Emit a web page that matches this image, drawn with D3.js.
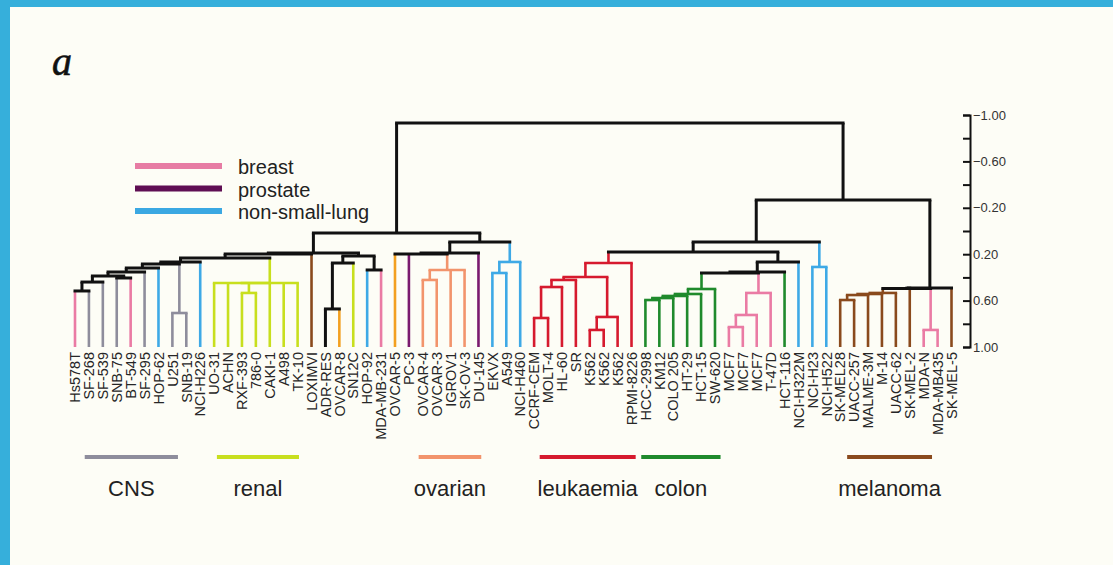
<!DOCTYPE html>
<html>
<head>
<meta charset="utf-8">
<script src="https://cdn.jsdelivr.net/npm/d3@7"></script>
<style>
  html, body { margin: 0; padding: 0; background: #36afdb; }
  svg { display: block; }
</style>
</head>
<body>
<svg id="chart" width="1113" height="565"></svg>
<script>
// Cell lines, left to right, and the tissue each one comes from
const leafNames = [
  "Hs578T","SF-268","SF-539","SNB-75","BT-549","SF-295","HOP-62","U251","SNB-19","NCI-H226",
  "UO-31","ACHN","RXF-393","786-0","CAKI-1","A498","TK-10","LOXIMVI","ADR-RES","OVCAR-8",
  "SN12C","HOP-92","MDA-MB-231","OVCAR-5","PC-3","OVCAR-4","OVCAR-3","IGROV1","SK-OV-3","DU-145",
  "EKVX","A549","NCI-H460","CCRF-CEM","MOLT-4","HL-60","SR","K562","K562","K562",
  "RPMI-8226","HCC-2998","KM12","COLO 205","HT-29","HCT-15","SW-620","MCF7","MCF7","MCF7",
  "T-47D","HCT-116","NCI-H322M","NCI-H23","NCI-H522","SK-MEL28","UACC-257","MALME-3M","M-14","UACC-62",
  "SK-MEL-2","MDA-N","MDA-MB435","SK-MEL-5"
];
const leafTissue = [
  "breast","cns","cns","cns","breast","cns","nsclc","cns","cns","nsclc",
  "renal","renal","renal","renal","renal","renal","renal","melanoma","other","ovarianAlt",
  "renal","nsclc","breast","ovarianAlt","prostate","ovarian","ovarian","ovarian","ovarian","prostate",
  "nsclc","nsclc","nsclc","leukaemia","leukaemia","leukaemia","leukaemia","leukaemia","leukaemia","leukaemia",
  "leukaemia","colon","colon","colon","colon","colon","colon","breast","breast","breast",
  "breast","colon","nsclc","nsclc","nsclc","melanoma","melanoma","melanoma","melanoma","melanoma",
  "melanoma","breast","breast","melanoma"
];
const tissueColors = {
  breast: "#ea7ba4", cns: "#8e8d9c", renal: "#c8df1e", nsclc: "#3ea9e6",
  melanoma: "#8a4a1d", ovarian: "#f2946c", ovarianAlt: "#f3a020",
  prostate: "#7a1a6f", leukaemia: "#d61a2e", colon: "#1f8a2c", other: "#111111"
};

// Agglomerative merges: [name, correlation height, children]
// (numbers are leaf indices, strings are earlier merges)
const merges = [
  ["c1", 0.517, [0, 1]],
  ["c2", 0.44, ["c1", 2]],
  ["c3", 0.405, [3, 4]],
  ["c4", 0.388, ["c2", "c3"]],
  ["c5", 0.353, ["c4", 5]],
  ["c6", 0.319, ["c5", 6]],
  ["c7", 0.707, [7, 8]],
  ["c8", 0.284, ["c6", "c7"]],
  ["c9", 0.267, ["c8", 9]],
  ["r1", 0.534, [12, 13]],
  ["r2", 0.448, [10, 11, "r1", 14]],
  ["r3", 0.448, ["r2", 15, 16]],
  ["c10", 0.233, ["c9", "r3"]],
  ["c11", 0.198, ["c10", 17]],
  ["b1", 0.672, [18, 19]],
  ["b2", 0.276, ["b1", 20]],
  ["b3", 0.336, [21, 22]],
  ["b4", 0.216, ["b2", "b3"]],
  ["lA", 0.19, ["c11", "b4"]],
  ["o1", 0.422, [25, 26]],
  ["o2", 0.336, ["o1", 27, 28]],
  ["o3", 0.198, [23, 24, "o2"]],
  ["o4", 0.19, ["o3", 29]],
  ["n1", 0.362, [30, 31]],
  ["n2", 0.267, ["n1", 32]],
  ["lB", 0.095, ["o4", "n2"]],
  ["L", 0.017, ["lA", "lB"]],
  ["k1", 0.75, [33, 34]],
  ["k2", 0.483, ["k1", 35]],
  ["k3", 0.422, ["k2", 36]],
  ["k4", 0.853, [37, 38]],
  ["k5", 0.741, ["k4", 39]],
  ["k6", 0.397, ["k3", "k5"]],
  ["k7", 0.276, ["k6", 40]],
  ["g1", 0.595, [41, 42]],
  ["g2", 0.578, ["g1", 43]],
  ["g3", 0.56, ["g2", 44]],
  ["g4", 0.543, ["g3", 45]],
  ["g5", 0.5, ["g4", 46]],
  ["p1", 0.828, [47, 48]],
  ["p2", 0.724, ["p1", 49]],
  ["p3", 0.534, ["p2", 50]],
  ["g6", 0.362, ["g5", "p3"]],
  ["g7", 0.353, ["g6", 51]],
  ["g8", 0.267, ["g7", 52]],
  ["q1", 0.181, ["k7", "g8"]],
  ["h1", 0.31, [53, 54]],
  ["q2", 0.095, ["q1", "h1"]],
  ["m1", 0.595, [55, 56]],
  ["m2", 0.552, ["m1", 57]],
  ["m3", 0.543, ["m2", 58]],
  ["m4", 0.534, ["m3", 59]],
  ["m5", 0.853, [61, 62]],
  ["m6", 0.495, ["m4", "m5"]],
  ["m7", 0.493, ["m6", 60]],
  ["m8", 0.491, ["m7", 63]],
  ["R", -0.267, ["q2", "m8"]],
  ["root", -0.931, ["L", "R"]]
];

// Axis ticks
const majorTicks = [-1.0, -0.6, -0.2, 0.2, 0.6, 1.0];
const allTicks = [-1.0, -0.8, -0.6, -0.4, -0.2, 0.0, 0.2, 0.4, 0.6, 0.8, 1.0];

// Legends
const legendLabels = ["breast", "prostate", "non-small-lung"];
const legendColors = ["#e77ca4", "#5f0e53", "#3ba8e2"];
const groupLabels = ["CNS", "renal", "ovarian", "leukaemia", "colon", "melanoma"];
const groupSpans = [[0.7, 7.4], [10.2, 16.1], [24.7, 29.2], [33.4, 40.3], [40.7, 46.4], [55.5, 61.6]];
const groupColors = ["#8e8d9c", "#c8df1e", "#f2946c", "#d61a2e", "#1f8a2c", "#8a4a1d"];

const SANS = '"Liberation Sans", Arial, Helvetica, sans-serif';
const svg = d3.select("#chart");

// Page frame
svg.append("rect").attr("x", 0).attr("y", 0).attr("width", 1113).attr("height", 565).attr("fill", "#36afdb");
svg.append("rect").attr("x", 10).attr("y", 7).attr("width", 1103).attr("height", 558).attr("fill", "#fdfdf6");

// Scales
const x = d3.scaleLinear().domain([0, leafNames.length - 1]).range([75, 951.5]);
const y = d3.scaleLinear().domain([-1, 1]).range([115, 347]);

// Build node table from merges
const nodes = {};
leafNames.forEach((n, i) => {
  nodes[i] = { id: i, h: 1.0, x: x(i), tissues: new Set([leafTissue[i]]) };
});
merges.forEach(([name, h, kids]) => {
  const ch = kids.map(k => nodes[k]);
  const tissues = new Set();
  ch.forEach(c => c.tissues.forEach(t => tissues.add(t)));
  nodes[name] = {
    id: name, h, children: ch, tissues,
    x: (ch[0].x + ch[ch.length - 1].x) / 2
  };
});
const BLACK = "#111111";
const colorOf = n => n.tissues.size === 1 ? tissueColors[[...n.tissues][0]] : BLACK;

const tree = svg.append("g").attr("fill", "none");
const verticals = [];
const horizontals = [];
merges.forEach(([name]) => {
  const n = nodes[name];
  n.children.forEach(c => verticals.push({ x: c.x, y1: y(c.h), y2: y(n.h), color: colorOf(c) }));
  horizontals.push({ x1: n.children[0].x, x2: n.children[n.children.length - 1].x, y: y(n.h), color: colorOf(n) });
});
// coloured branches first, black ones drawn over them
const byBlackLast = (a, b) => (a.color === BLACK) - (b.color === BLACK);
tree.selectAll("line.v").data(verticals.sort(byBlackLast)).join("line")
  .attr("class", "v")
  .attr("x1", d => d.x).attr("x2", d => d.x)
  .attr("y1", d => d.y1).attr("y2", d => d.y2)
  .attr("stroke", d => d.color)
  .attr("stroke-width", d => d.color === BLACK ? 3 : 2.6);
tree.selectAll("line.h").data(horizontals.sort(byBlackLast)).join("line")
  .attr("class", "h")
  .attr("x1", d => d.x1).attr("x2", d => d.x2)
  .attr("y1", d => d.y).attr("y2", d => d.y)
  .attr("stroke", d => d.color)
  .attr("stroke-linecap", "square")
  .attr("stroke-width", d => d.color === BLACK ? 3 : 2.6);

// Leaf labels
svg.append("g").selectAll("text").data(leafNames).join("text")
  .attr("transform", (d, i) => `translate(${x(i)},352) rotate(-90)`)
  .attr("text-anchor", "end")
  .attr("dy", "0.36em")
  .style("font-family", SANS)
  .style("font-size", "14.5px")
  .attr("fill", "#262626")
  .text(d => d);

// Correlation axis
const axis = d3.axisRight(y)
  .tickValues(allTicks)
  .tickSizeInner(-7)
  .tickSizeOuter(-7)
  .tickPadding(3)
  .tickFormat(d => majorTicks.some(m => Math.abs(m - d) < 1e-9) ? d3.format(".2f")(d) : "");
const ax = svg.append("g").attr("transform", "translate(970,0)").call(axis);
ax.select(".domain").attr("stroke", "#111").attr("stroke-width", 2);
ax.selectAll(".tick line").attr("stroke", "#111").attr("stroke-width", 2);
ax.selectAll(".tick text").style("font-size", "13px").style("font-family", SANS).attr("fill", "#333");

// Panel letter
svg.append("text").attr("x", 52).attr("y", 75)
  .style("font-family", '"Liberation Serif", "DejaVu Serif", serif')
  .style("font-style", "italic")
  .style("font-size", "40px")
  .attr("fill", "#111").attr("stroke", "#111").attr("stroke-width", 0.6)
  .text("a");

// Colour legend
const leg = svg.append("g");
legendLabels.forEach((lab, i) => {
  const ly = 166 + i * 22.5;
  leg.append("line").attr("x1", 135).attr("x2", 222).attr("y1", ly).attr("y2", ly)
    .attr("stroke", legendColors[i]).attr("stroke-width", 6);
  leg.append("text").attr("x", 238).attr("y", ly + 8)
    .style("font-family", SANS).style("font-size", "20px")
    .attr("fill", "#222").text(lab);
});

// Tissue group bars
const grp = svg.append("g");
groupLabels.forEach((lab, i) => {
  const [a, b] = groupSpans[i];
  grp.append("line").attr("x1", x(a)).attr("x2", x(b)).attr("y1", 457).attr("y2", 457)
    .attr("stroke", groupColors[i]).attr("stroke-width", 4);
  grp.append("text").attr("x", (x(a) + x(b)) / 2).attr("y", 496)
    .attr("text-anchor", "middle")
    .style("font-family", SANS).style("font-size", "22px")
    .attr("fill", "#222").text(lab);
});
</script>
</body>
</html>
